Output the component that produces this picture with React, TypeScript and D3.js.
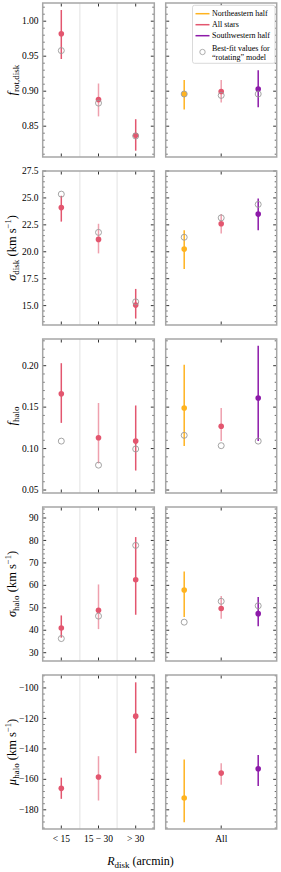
import React from "react";
import * as d3 from "d3";

// x categories
const binLabels = ["< 15", "15 − 30", "> 30"];
const sideLabel = "All";
const legendLabels = ["Northeastern half", "All stars", "Southwestern half"];
const rotLegend = ["Best-fit values for", "“rotating” model"];

// each row: [best value, lower, upper, "rotating" model best fit]
const fRotBins = [
  [0.982, 0.946, 1.016, 0.958],
  [0.888, 0.864, 0.911, 0.883],
  [0.837, 0.815, 0.86, 0.836],
];
const fRotSides = [
  [0.896, 0.874, 0.916, 0.896],
  [0.8995, 0.884, 0.916, 0.894],
  [0.903, 0.877, 0.93, 0.896],
];
const sigDiskBins = [
  [24.1, 22.8, 25.2, 25.35],
  [21.15, 19.85, 22.6, 21.8],
  [15.05, 13.8, 16.55, 15.35],
];
const sigDiskSides = [
  [20.25, 18.4, 22.0, 21.35],
  [22.6, 21.7, 23.5, 23.15],
  [23.5, 22.0, 24.95, 24.4],
];
const fHaloBins = [
  [0.166, 0.131, 0.203, 0.109],
  [0.113, 0.082, 0.155, 0.08],
  [0.109, 0.0735, 0.152, 0.0995],
];
const fHaloSides = [
  [0.149, 0.103, 0.201, 0.116],
  [0.127, 0.109, 0.149, 0.1035],
  [0.161, 0.109, 0.224, 0.109],
];
const sigHaloBins = [
  [41.0, 36.7, 46.6, 36.3],
  [48.9, 40.5, 60.4, 46.3],
  [62.5, 46.9, 81.5, 77.8],
];
const sigHaloSides = [
  [57.9, 45.9, 66.2, 43.6],
  [49.7, 45.1, 55.2, 52.9],
  [47.4, 41.8, 54.8, 50.9],
];
const muHaloBins = [
  [-165.9, -172.8, -158.9, null],
  [-158.5, -173.9, -144.8, null],
  [-118.5, -142.8, -96.3, null],
];
const muHaloSides = [
  [-172.2, -188.2, -147, null],
  [-155.9, -163.5, -149.4, null],
  [-153, -164.4, -144.1, null],
];

const RED = "#e3566f";
const RED_LIGHT = "#efa0ae";
const YELLOW = "#ffb31f";
const PURPLE = "#8d1aa9";
const sideColors = [YELLOW, RED, PURPLE];
const FONT = "'Liberation Serif', 'DejaVu Serif', serif";

type Row = (number | null)[];

const panels = [
  { key: "frot", domain: [0.806, 1.026], step: 0.05, fmt: ".2f", bins: fRotBins, sides: fRotSides },
  { key: "sdisk", domain: [13.2, 27.5], step: 2.5, fmt: ".1f", bins: sigDiskBins, sides: sigDiskSides },
  { key: "fhalo", domain: [0.0464, 0.2322], step: 0.05, fmt: ".2f", bins: fHaloBins, sides: fHaloSides },
  { key: "shalo", domain: [26.3, 94.9], step: 10, fmt: "d", bins: sigHaloBins, sides: sigHaloSides },
  { key: "mhalo", domain: [-192.6, -91.5], step: 20, fmt: "d", bins: muHaloBins, sides: muHaloSides },
];

const W = 281;
const H = 872;
const TOP = 3;
const PH = 154;
const STEP = 168;
const xLeft = d3.scaleLinear().domain([-0.5, 2.5]).range([42.7, 154.3]);
const xRight = d3.scaleLinear().domain([-0.5, 2.5]).range([165.7, 276.7]);

function tickValues(d0: number, d1: number, step: number) {
  const out: number[] = [];
  for (let k = Math.ceil(d0 / step - 1e-9); k * step <= d1 + 1e-9; k++) out.push(+(k * step).toFixed(6));
  return out;
}

function yLabel(key: string) {
  const sub = { fontSize: 9, dy: 3 } as const;
  const unit = (
    <>
      <tspan dy={-3}> (km s</tspan>
      <tspan fontSize={8.5} dy={-5}>−1</tspan>
      <tspan dy={5}>)</tspan>
    </>
  );
  if (key === "frot")
    return (
      <>
        <tspan fontStyle="italic">f</tspan>
        <tspan {...sub}>rot,disk</tspan>
      </>
    );
  if (key === "fhalo")
    return (
      <>
        <tspan fontStyle="italic">f</tspan>
        <tspan {...sub}>halo</tspan>
      </>
    );
  const sym = key === "mhalo" ? "μ" : "σ";
  const s = key === "sdisk" ? "disk" : "halo";
  return (
    <>
      <tspan fontStyle="italic">{sym}</tspan>
      <tspan {...sub}>{s}</tspan>
      {unit}
    </>
  );
}

function Panel({ p, i }: { p: (typeof panels)[number]; i: number }) {
  const y0 = TOP + i * STEP;
  const y1 = y0 + PH;
  const y = d3.scaleLinear().domain(p.domain).range([y1, y0]);
  const majors = tickValues(p.domain[0], p.domain[1], p.step);
  const minors = tickValues(p.domain[0], p.domain[1], p.step / 5).filter(
    (v) => !majors.some((m) => Math.abs(m - v) < 1e-6)
  );
  const fmt = d3.format(p.fmt);
  const isLast = i === panels.length - 1;

  const frames = [
    { x: xLeft, xt: [0, 1, 2] },
    { x: xRight, xt: [1] },
  ];

  const marks = (rows: Row[], x: d3.ScaleLinear<number, number>, colors: string[], key: string) =>
    rows.map((r, j) => {
      const [v, lo, hi, rot] = r as number[];
      const c = colors[j];
      const barColor = j === 1 ? RED_LIGHT : c;
      return (
        <g key={key + j}>
          <line x1={x(j)} x2={x(j)} y1={y(lo)} y2={y(hi)} stroke={barColor} strokeWidth={1.5} />
          <circle cx={x(j)} cy={y(v)} r={2.8} fill={c} />
          {r[3] != null && (
            <circle cx={x(j)} cy={y(rot)} r={3} fill="none" stroke="#9a9a9a" strokeWidth={0.9} />
          )}
        </g>
      );
    });

  return (
    <g>
      {[0.5, 1.5].map((s) => (
        <line key={s} x1={xLeft(s)} x2={xLeft(s)} y1={y0} y2={y1} stroke="#cfcfcf" strokeWidth={0.6} />
      ))}
      {marks(p.bins as Row[], xLeft, [RED, RED, RED], "b")}
      {marks(p.sides as Row[], xRight, sideColors, "s")}
      {frames.map((f, k) => {
        const [xa, xb] = f.x.range();
        return (
          <g key={k}>
            {majors.map((m) => (
              <g key={"M" + m} stroke="#000" strokeWidth={0.8}>
                <line x1={xa} x2={xa + 3.5} y1={y(m)} y2={y(m)} />
                <line x1={xb} x2={xb - 3.5} y1={y(m)} y2={y(m)} />
              </g>
            ))}
            {minors.map((m) => (
              <g key={"m" + m} stroke="#000" strokeWidth={0.6}>
                <line x1={xa} x2={xa + 2} y1={y(m)} y2={y(m)} />
                <line x1={xb} x2={xb - 2} y1={y(m)} y2={y(m)} />
              </g>
            ))}
            {f.xt.map((t) => (
              <g key={"x" + t} stroke="#000" strokeWidth={0.8}>
                <line x1={f.x(t)} x2={f.x(t)} y1={y1} y2={y1 - 3.5} />
                <line x1={f.x(t)} x2={f.x(t)} y1={y0} y2={y0 + 3.5} />
              </g>
            ))}
            <rect x={xa} y={y0} width={xb - xa} height={PH} fill="none" stroke="#a6a6a6" strokeWidth={1.5} />
          </g>
        );
      })}
      {majors.map((m) => (
        <text key={"l" + m} x={38.5} y={y(m)} dy="0.33em" textAnchor="end" fontSize={9.5}>
          {fmt(m).replace("-", "−")}
        </text>
      ))}
      <text transform={`translate(16,${(y0 + y1) / 2}) rotate(-90)`} textAnchor="middle" fontSize={12.5}>
        {yLabel(p.key)}
      </text>
      {isLast && (
        <g fontSize={9.5} textAnchor="middle">
          {binLabels.map((b, j) => (
            <text key={b} x={xLeft(j)} y={842}>
              {b}
            </text>
          ))}
          <text x={xRight(1)} y={842}>
            {sideLabel}
          </text>
        </g>
      )}
    </g>
  );
}

function Legend() {
  const lx = 192.5;
  const rows = [13.7, 24.7, 35.7];
  return (
    <g fontSize={8}>
      <rect x={lx} y={5.3} width={82.5} height={58} rx={2} fill="#fff" stroke="#d0d0d0" strokeWidth={0.8} />
      {legendLabels.map((l, j) => (
        <g key={l}>
          <line x1={lx + 3} x2={lx + 17} y1={rows[j]} y2={rows[j]} stroke={sideColors[j]} strokeWidth={1.5} />
          <text x={lx + 19.5} y={rows[j]} dy="0.33em">
            {l}
          </text>
        </g>
      ))}
      <circle cx={lx + 10} cy={52} r={2.7} fill="none" stroke="#9a9a9a" strokeWidth={0.8} />
      <text x={lx + 19.5} y={48} dy="0.33em">
        {rotLegend[0]}
      </text>
      <text x={lx + 19.5} y={57} dy="0.33em">
        {rotLegend[1]}
      </text>
    </g>
  );
}

export default function App() {
  return (
    <svg width={W} height={H} style={{ position: "absolute", left: 0, top: 0 }} fontFamily={FONT}>
      <rect width={W} height={H} fill="#fff" />
      {panels.map((p, i) => (
        <Panel key={p.key} p={p} i={i} />
      ))}
      <Legend />
      <text x={140.5} y={865} textAnchor="middle" fontSize={12}>
        <tspan fontStyle="italic">R</tspan>
        <tspan fontSize={9} dy={3}>disk</tspan>
        <tspan dy={-3}> (arcmin)</tspan>
      </text>
    </svg>
  );
}
